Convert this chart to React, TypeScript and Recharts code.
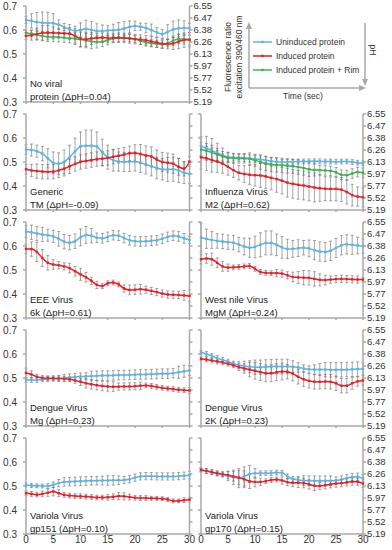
import React from 'react';
import { LineChart, Line, XAxis, YAxis, ErrorBar } from 'recharts';

const BLUE = '#5ab4e6';
const RED = '#ee1c25';
const GREEN = '#3cb44a';
const AXIS = '#a8a8a8';
const ERR = '#6a6a6a';
const FONT = '"Liberation Sans", Arial, sans-serif';

const seconds = [0, 1, 2, 3, 4, 5, 6, 7, 8, 9, 10, 11, 12, 13, 14, 15, 16, 17, 18, 19, 20, 21, 22, 23, 24, 25, 26, 27, 28, 29, 30];
const timeTicks = [0, 5, 10, 15, 20, 25, 30];
const ratioTicks = [0.3, 0.4, 0.5, 0.6, 0.7];
const phPositions = [0.7, 0.65, 0.6, 0.55, 0.5, 0.45, 0.4, 0.35, 0.3];
const phLabels = ['6.55', '6.47', '6.38', '6.26', '6.13', '5.97', '5.77', '5.52', '5.19'];

// No viral protein
const noViralBlue = [0.642, 0.638, 0.633, 0.63, 0.629, 0.628, 0.622, 0.612, 0.603, 0.596, 0.6, 0.605, 0.6, 0.596, 0.596, 0.598, 0.599, 0.601, 0.606, 0.613, 0.617, 0.614, 0.608, 0.6, 0.59, 0.583, 0.592, 0.602, 0.607, 0.608, 0.608];
const noViralBlueErr = [0.015, 0.03, 0.04, 0.045, 0.045, 0.04, 0.02, 0.015, 0.02, 0.02, 0.03, 0.035, 0.035, 0.03, 0.025, 0.02, 0.025, 0.03, 0.03, 0.025, 0.02, 0.015, 0.02, 0.025, 0.02, 0.02, 0.03, 0.035, 0.035, 0.03, 0.02];
const noViralRed = [0.575, 0.578, 0.583, 0.588, 0.589, 0.588, 0.587, 0.586, 0.585, 0.575, 0.564, 0.561, 0.565, 0.567, 0.568, 0.567, 0.567, 0.568, 0.567, 0.565, 0.562, 0.56, 0.557, 0.552, 0.548, 0.543, 0.541, 0.544, 0.552, 0.558, 0.56];
const noViralRedErr = [0.015, 0.02, 0.025, 0.03, 0.03, 0.025, 0.02, 0.02, 0.025, 0.03, 0.035, 0.03, 0.025, 0.02, 0.02, 0.02, 0.02, 0.02, 0.02, 0.02, 0.02, 0.02, 0.02, 0.02, 0.02, 0.02, 0.02, 0.025, 0.03, 0.03, 0.03];
const noViralGreen = [0.588, 0.585, 0.58, 0.575, 0.572, 0.571, 0.57, 0.568, 0.566, 0.564, 0.561, 0.556, 0.552, 0.55, 0.551, 0.558, 0.565, 0.567, 0.567, 0.566, 0.562, 0.555, 0.548, 0.545, 0.542, 0.54, 0.545, 0.555, 0.563, 0.562, 0.558];
const noViralGreenErr = [0.01, 0.015, 0.02, 0.02, 0.02, 0.02, 0.02, 0.02, 0.02, 0.025, 0.03, 0.03, 0.03, 0.025, 0.02, 0.02, 0.015, 0.015, 0.015, 0.015, 0.015, 0.015, 0.015, 0.015, 0.015, 0.015, 0.015, 0.02, 0.02, 0.02, 0.02];

// Generic TM
const genericBlue = [0.552, 0.55, 0.545, 0.535, 0.515, 0.497, 0.493, 0.5, 0.52, 0.545, 0.565, 0.568, 0.568, 0.565, 0.54, 0.52, 0.507, 0.502, 0.5, 0.501, 0.502, 0.497, 0.49, 0.482, 0.475, 0.47, 0.469, 0.47, 0.465, 0.455, 0.45];
const genericBlueErr = [0.02, 0.025, 0.025, 0.03, 0.04, 0.045, 0.045, 0.05, 0.05, 0.055, 0.06, 0.065, 0.065, 0.06, 0.055, 0.05, 0.045, 0.04, 0.04, 0.04, 0.04, 0.04, 0.04, 0.04, 0.045, 0.045, 0.05, 0.05, 0.05, 0.045, 0.04];
const genericRed = [0.47, 0.465, 0.462, 0.46, 0.459, 0.46, 0.465, 0.472, 0.482, 0.492, 0.5, 0.504, 0.508, 0.512, 0.514, 0.517, 0.522, 0.526, 0.531, 0.536, 0.537, 0.533, 0.527, 0.523, 0.51, 0.5, 0.497, 0.493, 0.48, 0.472, 0.502];
const genericRedErr = [0.02, 0.025, 0.03, 0.03, 0.03, 0.03, 0.03, 0.03, 0.03, 0.03, 0.03, 0.03, 0.03, 0.03, 0.03, 0.03, 0.03, 0.03, 0.03, 0.03, 0.035, 0.04, 0.04, 0.04, 0.04, 0.04, 0.04, 0.04, 0.035, 0.03, 0.02];

// Influenza Virus M2
const m2Blue = [0.565, 0.557, 0.548, 0.538, 0.528, 0.521, 0.519, 0.518, 0.517, 0.515, 0.513, 0.51, 0.507, 0.503, 0.501, 0.5, 0.5, 0.501, 0.502, 0.502, 0.503, 0.503, 0.503, 0.502, 0.502, 0.501, 0.502, 0.502, 0.5, 0.497, 0.495];
const m2BlueErr = [0.04, 0.05, 0.05, 0.04, 0.03, 0.02, 0.015, 0.015, 0.015, 0.015, 0.015, 0.015, 0.015, 0.015, 0.015, 0.01, 0.01, 0.01, 0.01, 0.01, 0.01, 0.01, 0.01, 0.01, 0.01, 0.01, 0.01, 0.01, 0.01, 0.01, 0.01];
const m2Red = [0.52, 0.515, 0.508, 0.502, 0.493, 0.48, 0.466, 0.455, 0.45, 0.447, 0.445, 0.444, 0.44, 0.434, 0.429, 0.422, 0.414, 0.409, 0.405, 0.402, 0.398, 0.394, 0.391, 0.389, 0.388, 0.388, 0.385, 0.375, 0.362, 0.356, 0.353];
const m2RedErr = [0.05, 0.05, 0.05, 0.045, 0.04, 0.035, 0.03, 0.03, 0.035, 0.04, 0.045, 0.05, 0.05, 0.05, 0.055, 0.055, 0.06, 0.06, 0.06, 0.06, 0.06, 0.06, 0.055, 0.05, 0.05, 0.05, 0.05, 0.05, 0.045, 0.04, 0.04];
const m2Green = [0.552, 0.547, 0.54, 0.532, 0.524, 0.518, 0.516, 0.515, 0.515, 0.513, 0.507, 0.5, 0.494, 0.49, 0.488, 0.486, 0.484, 0.482, 0.479, 0.475, 0.47, 0.467, 0.466, 0.465, 0.463, 0.457, 0.447, 0.445, 0.452, 0.458, 0.455];
const m2GreenErr = [0.03, 0.03, 0.03, 0.025, 0.02, 0.02, 0.02, 0.02, 0.02, 0.025, 0.025, 0.03, 0.03, 0.03, 0.03, 0.03, 0.03, 0.03, 0.03, 0.03, 0.03, 0.025, 0.02, 0.02, 0.02, 0.02, 0.02, 0.02, 0.02, 0.02, 0.02];

// EEE Virus 6k
const eeeBlue = [0.66, 0.657, 0.652, 0.648, 0.645, 0.64, 0.63, 0.618, 0.614, 0.62, 0.636, 0.646, 0.643, 0.634, 0.632, 0.638, 0.645, 0.643, 0.633, 0.624, 0.62, 0.619, 0.62, 0.622, 0.624, 0.63, 0.638, 0.643, 0.64, 0.632, 0.625];
const eeeBlueErr = [0.025, 0.03, 0.03, 0.03, 0.025, 0.025, 0.03, 0.03, 0.03, 0.03, 0.035, 0.035, 0.03, 0.02, 0.02, 0.02, 0.02, 0.02, 0.02, 0.02, 0.02, 0.02, 0.02, 0.02, 0.02, 0.02, 0.02, 0.02, 0.02, 0.02, 0.015];
const eeeRed = [0.588, 0.587, 0.575, 0.55, 0.53, 0.523, 0.52, 0.515, 0.508, 0.495, 0.482, 0.47, 0.455, 0.438, 0.433, 0.445, 0.448, 0.44, 0.423, 0.417, 0.418, 0.42, 0.418, 0.413, 0.408, 0.402, 0.398, 0.397, 0.396, 0.394, 0.392];
const eeeRedErr = [0.02, 0.03, 0.04, 0.035, 0.03, 0.02, 0.015, 0.015, 0.02, 0.02, 0.025, 0.02, 0.015, 0.015, 0.01, 0.01, 0.01, 0.01, 0.015, 0.02, 0.02, 0.02, 0.015, 0.015, 0.015, 0.015, 0.015, 0.015, 0.015, 0.02, 0.025];

// West nile Virus MgM
const westNileBlue = [0.635, 0.63, 0.625, 0.621, 0.619, 0.616, 0.614, 0.606, 0.598, 0.593, 0.596, 0.605, 0.613, 0.613, 0.605, 0.594, 0.588, 0.588, 0.591, 0.593, 0.59, 0.583, 0.577, 0.575, 0.58, 0.592, 0.603, 0.607, 0.605, 0.602, 0.6];
const westNileBlueErr = [0.06, 0.04, 0.035, 0.03, 0.03, 0.03, 0.03, 0.03, 0.035, 0.04, 0.045, 0.05, 0.05, 0.05, 0.045, 0.045, 0.04, 0.035, 0.035, 0.03, 0.035, 0.04, 0.04, 0.04, 0.04, 0.04, 0.04, 0.04, 0.04, 0.035, 0.03];
const westNileRed = [0.545, 0.548, 0.545, 0.53, 0.515, 0.51, 0.511, 0.513, 0.515, 0.517, 0.505, 0.492, 0.488, 0.487, 0.487, 0.485, 0.478, 0.471, 0.469, 0.468, 0.467, 0.463, 0.459, 0.458, 0.46, 0.462, 0.463, 0.462, 0.461, 0.46, 0.46];
const westNileRedErr = [0.02, 0.02, 0.025, 0.02, 0.02, 0.015, 0.01, 0.01, 0.01, 0.01, 0.01, 0.01, 0.01, 0.01, 0.015, 0.015, 0.015, 0.02, 0.025, 0.03, 0.03, 0.03, 0.025, 0.02, 0.015, 0.015, 0.015, 0.015, 0.015, 0.015, 0.01];

// Dengue Virus Mg
const mgBlue = [0.493, 0.492, 0.492, 0.494, 0.496, 0.497, 0.498, 0.5, 0.502, 0.504, 0.506, 0.507, 0.508, 0.509, 0.51, 0.51, 0.511, 0.512, 0.512, 0.513, 0.514, 0.515, 0.515, 0.516, 0.517, 0.518, 0.518, 0.52, 0.524, 0.528, 0.531];
const mgBlueErr = [0.01, 0.01, 0.01, 0.01, 0.01, 0.01, 0.012, 0.015, 0.015, 0.015, 0.015, 0.015, 0.02, 0.02, 0.02, 0.02, 0.02, 0.02, 0.02, 0.02, 0.02, 0.02, 0.02, 0.02, 0.02, 0.02, 0.02, 0.02, 0.025, 0.025, 0.02];
const mgRed = [0.521, 0.515, 0.505, 0.5, 0.499, 0.499, 0.498, 0.497, 0.495, 0.49, 0.484, 0.478, 0.474, 0.47, 0.467, 0.465, 0.464, 0.464, 0.465, 0.465, 0.466, 0.468, 0.469, 0.467, 0.463, 0.459, 0.456, 0.454, 0.451, 0.449, 0.448];
const mgRedErr = [0.02, 0.015, 0.01, 0.01, 0.01, 0.01, 0.01, 0.01, 0.01, 0.012, 0.015, 0.02, 0.02, 0.02, 0.02, 0.02, 0.02, 0.015, 0.015, 0.015, 0.015, 0.015, 0.01, 0.01, 0.01, 0.01, 0.01, 0.01, 0.01, 0.01, 0.012];

// Dengue Virus 2K
const k2Blue = [0.607, 0.6, 0.592, 0.583, 0.575, 0.568, 0.56, 0.554, 0.55, 0.547, 0.545, 0.545, 0.546, 0.547, 0.548, 0.548, 0.548, 0.547, 0.544, 0.54, 0.536, 0.535, 0.535, 0.535, 0.534, 0.534, 0.534, 0.535, 0.536, 0.537, 0.538];
const k2BlueErr = [0.008, 0.01, 0.01, 0.01, 0.01, 0.01, 0.01, 0.015, 0.02, 0.025, 0.03, 0.03, 0.03, 0.03, 0.03, 0.03, 0.03, 0.025, 0.02, 0.015, 0.015, 0.02, 0.025, 0.03, 0.03, 0.03, 0.03, 0.03, 0.03, 0.03, 0.025];
const k2Red = [0.58, 0.577, 0.573, 0.569, 0.565, 0.56, 0.553, 0.546, 0.54, 0.535, 0.53, 0.525, 0.52, 0.52, 0.524, 0.527, 0.526, 0.518, 0.505, 0.495, 0.488, 0.484, 0.484, 0.485, 0.484, 0.478, 0.468, 0.468, 0.478, 0.486, 0.49];
const k2RedErr = [0.008, 0.01, 0.01, 0.01, 0.01, 0.01, 0.01, 0.015, 0.02, 0.03, 0.035, 0.035, 0.035, 0.035, 0.035, 0.035, 0.03, 0.03, 0.03, 0.03, 0.03, 0.03, 0.03, 0.03, 0.03, 0.03, 0.03, 0.03, 0.025, 0.02, 0.02];

// Variola Virus gp151
const gp151Blue = [0.504, 0.502, 0.501, 0.5, 0.5, 0.505, 0.512, 0.517, 0.518, 0.519, 0.52, 0.521, 0.522, 0.522, 0.523, 0.523, 0.524, 0.524, 0.525, 0.528, 0.535, 0.54, 0.541, 0.541, 0.54, 0.54, 0.54, 0.54, 0.541, 0.543, 0.545];
const gp151BlueErr = [0.008, 0.008, 0.008, 0.008, 0.01, 0.012, 0.015, 0.018, 0.018, 0.018, 0.018, 0.018, 0.018, 0.018, 0.018, 0.02, 0.02, 0.018, 0.015, 0.015, 0.015, 0.015, 0.015, 0.015, 0.015, 0.015, 0.015, 0.015, 0.015, 0.015, 0.015];
const gp151Red = [0.47, 0.467, 0.464, 0.467, 0.472, 0.477, 0.47, 0.463, 0.46, 0.458, 0.457, 0.456, 0.454, 0.452, 0.452, 0.453, 0.455, 0.458, 0.457, 0.454, 0.451, 0.45, 0.45, 0.449, 0.448, 0.447, 0.444, 0.438, 0.438, 0.441, 0.443];
const gp151RedErr = [0.01, 0.01, 0.01, 0.012, 0.015, 0.018, 0.015, 0.01, 0.01, 0.01, 0.01, 0.01, 0.01, 0.01, 0.01, 0.012, 0.012, 0.015, 0.015, 0.012, 0.01, 0.01, 0.01, 0.008, 0.008, 0.008, 0.008, 0.008, 0.008, 0.01, 0.01];

// Variola Virus gp170
const gp170Blue = [0.567, 0.562, 0.557, 0.552, 0.548, 0.542, 0.536, 0.533, 0.54, 0.55, 0.553, 0.553, 0.553, 0.554, 0.556, 0.555, 0.54, 0.53, 0.525, 0.523, 0.522, 0.522, 0.522, 0.522, 0.522, 0.523, 0.527, 0.533, 0.538, 0.539, 0.532];
const gp170BlueErr = [0.008, 0.01, 0.01, 0.01, 0.01, 0.02, 0.03, 0.04, 0.04, 0.035, 0.02, 0.01, 0.01, 0.01, 0.01, 0.01, 0.01, 0.01, 0.015, 0.02, 0.02, 0.02, 0.02, 0.02, 0.02, 0.015, 0.015, 0.015, 0.015, 0.015, 0.015];
const gp170Red = [0.567, 0.563, 0.558, 0.553, 0.549, 0.545, 0.54, 0.535, 0.528, 0.52, 0.517, 0.517, 0.52, 0.525, 0.527, 0.523, 0.516, 0.513, 0.514, 0.512, 0.507, 0.501, 0.5, 0.503, 0.507, 0.51, 0.512, 0.515, 0.518, 0.518, 0.51];
const gp170RedErr = [0.008, 0.01, 0.01, 0.01, 0.01, 0.015, 0.02, 0.03, 0.035, 0.03, 0.02, 0.015, 0.01, 0.01, 0.01, 0.015, 0.015, 0.015, 0.02, 0.02, 0.02, 0.02, 0.015, 0.015, 0.015, 0.015, 0.015, 0.015, 0.015, 0.015, 0.015];

type PanelDef = {
  row: number;
  col: number;
  title: [string, string];
  blue: number[];
  blueErr: number[];
  red: number[];
  redErr: number[];
  green?: number[];
  greenErr?: number[];
};

const panels: PanelDef[] = [
  { row: 0, col: 0, title: ['No viral', 'protein (ΔpH=0.04)'], blue: noViralBlue, blueErr: noViralBlueErr, red: noViralRed, redErr: noViralRedErr, green: noViralGreen, greenErr: noViralGreenErr },
  { row: 1, col: 0, title: ['Generic', 'TM (ΔpH=-0.09)'], blue: genericBlue, blueErr: genericBlueErr, red: genericRed, redErr: genericRedErr },
  { row: 1, col: 1, title: ['Influenza Virus', 'M2 (ΔpH=0.62)'], blue: m2Blue, blueErr: m2BlueErr, red: m2Red, redErr: m2RedErr, green: m2Green, greenErr: m2GreenErr },
  { row: 2, col: 0, title: ['EEE Virus', '6k (ΔpH=0.61)'], blue: eeeBlue, blueErr: eeeBlueErr, red: eeeRed, redErr: eeeRedErr },
  { row: 2, col: 1, title: ['West nile Virus', 'MgM (ΔpH=0.24)'], blue: westNileBlue, blueErr: westNileBlueErr, red: westNileRed, redErr: westNileRedErr },
  { row: 3, col: 0, title: ['Dengue Virus', 'Mg (ΔpH=0.23)'], blue: mgBlue, blueErr: mgBlueErr, red: mgRed, redErr: mgRedErr },
  { row: 3, col: 1, title: ['Dengue Virus', '2K (ΔpH=0.23)'], blue: k2Blue, blueErr: k2BlueErr, red: k2Red, redErr: k2RedErr },
  { row: 4, col: 0, title: ['Variola Virus', 'gp151 (ΔpH=0.10)'], blue: gp151Blue, blueErr: gp151BlueErr, red: gp151Red, redErr: gp151RedErr },
  { row: 4, col: 1, title: ['Variola Virus', 'gp170 (ΔpH=0.15)'], blue: gp170Blue, blueErr: gp170BlueErr, red: gp170Red, redErr: gp170RedErr },
];

const ROW_STEP = 108;
const PLOT_TOP = 6;
const PLOT_H = 96;
const TOP_MARGIN = 6;
const X_AXIS_H = 14;

const squareDot = (color: string) => (p: any) => (
  <rect key={`dot-${p.index}`} x={p.cx - 1.2} y={p.cy - 1.2} width={2.4} height={2.4} fill={color} />
);

const phLabel = (v: number) => {
  const i = phPositions.findIndex((p) => Math.abs(p - v) < 1e-6);
  return i >= 0 ? phLabels[i] : '';
};

function Panel({ p }: { p: PanelDef }) {
  const data = seconds.map((t, i) => ({
    t,
    blue: p.blue[i],
    blueErr: p.blueErr[i],
    red: p.red[i],
    redErr: p.redErr[i],
    green: p.green ? p.green[i] : undefined,
    greenErr: p.greenErr ? p.greenErr[i] : undefined,
  }));
  const isLeft = p.col === 0;
  const left = isLeft ? 0 : 175;
  const width = isLeft ? 222 : 217;
  const leftW = 26;
  const rightW = isLeft ? 32.5 : 29;
  const plotTop = PLOT_TOP + p.row * ROW_STEP;
  const plotBottom = plotTop + PLOT_H;
  const showRatio = isLeft;
  const showPh = !isLeft || p.row === 0;
  const lastRow = p.row === 4;
  const tickStyle = { fontSize: 10, fill: '#333', fontFamily: FONT };
  const phTickStyle = { fontSize: 9.5, fill: '#333', fontFamily: FONT };

  return (
    <>
      <div style={{ position: 'absolute', left, top: plotTop - TOP_MARGIN }}>
        <LineChart width={width} height={TOP_MARGIN + PLOT_H + X_AXIS_H} data={data} margin={{ top: TOP_MARGIN, right: 0, bottom: 0, left: 0 }}>
          <XAxis
            dataKey="t"
            type="number"
            domain={[0, 30]}
            ticks={timeTicks}
            interval={0}
            height={X_AXIS_H}
            stroke={AXIS}
            strokeWidth={1.5}
            tickSize={2}
            tickMargin={0}
            tick={tickStyle}
            tickFormatter={(v) => (lastRow ? String(v) : '')}
          />
          <YAxis
            yAxisId="ratio"
            orientation="left"
            type="number"
            domain={[0.3, 0.7]}
            ticks={ratioTicks}
            interval={0}
            width={leftW}
            stroke={AXIS}
            strokeWidth={1.5}
            tickSize={3}
            tickMargin={6}
            tick={tickStyle}
            tickFormatter={(v) => (showRatio ? v.toFixed(1) : '')}
            allowDataOverflow
          />
          <YAxis
            yAxisId="ph"
            orientation="right"
            type="number"
            domain={[0.3, 0.7]}
            ticks={phPositions}
            interval={0}
            width={rightW}
            stroke={AXIS}
            strokeWidth={1.5}
            tickSize={3}
            tickMargin={1}
            tick={phTickStyle}
            tickFormatter={(v) => (showPh ? phLabel(v) : '')}
            allowDataOverflow
          />
          {/* invisible series so the pH axis is laid out on the same scale */}
          <Line yAxisId="ph" dataKey="blue" stroke="none" dot={false} activeDot={false} legendType="none" isAnimationActive={false} />
          <Line yAxisId="ratio" dataKey="blue" type="monotone" stroke={BLUE} strokeWidth={1.5} dot={squareDot(BLUE)} isAnimationActive={false}>
            <ErrorBar dataKey="blueErr" direction="y" width={1.5} stroke={ERR} strokeWidth={0.6} />
          </Line>
          {p.green && (
            <Line yAxisId="ratio" dataKey="green" type="monotone" stroke={GREEN} strokeWidth={1.5} dot={squareDot(GREEN)} isAnimationActive={false}>
              <ErrorBar dataKey="greenErr" direction="y" width={1.5} stroke={ERR} strokeWidth={0.6} />
            </Line>
          )}
          <Line yAxisId="ratio" dataKey="red" type="monotone" stroke={RED} strokeWidth={1.5} dot={squareDot(RED)} isAnimationActive={false}>
            <ErrorBar dataKey="redErr" direction="y" width={1.5} stroke={ERR} strokeWidth={0.6} />
          </Line>
        </LineChart>
      </div>
      <div
        style={{
          position: 'absolute',
          left: isLeft ? 30 : 205,
          top: plotBottom - 25,
          fontFamily: FONT,
          fontSize: 9.5,
          lineHeight: '13px',
          color: '#222',
          whiteSpace: 'nowrap',
        }}
      >
        <div>{p.title[0]}</div>
        <div>{p.title[1]}</div>
      </div>
    </>
  );
}

const legendItems = [
  { label: 'Uninduced protein', color: BLUE },
  { label: 'Induced protein', color: RED },
  { label: 'Induced protein + Rim', color: GREEN },
];

function Key() {
  return (
    <svg width={392} height={110} style={{ position: 'absolute', left: 0, top: 0 }} fontFamily={FONT}>
      <line x1={249} y1={88} x2={249} y2={27} stroke={AXIS} strokeWidth={1.5} />
      <polygon points="249,22 246,29 252,29" fill={AXIS} />
      <line x1={249} y1={88} x2={360} y2={88} stroke={AXIS} strokeWidth={1.5} />
      <polygon points="366,88 359,85 359,91" fill={AXIS} />
      <line x1={365} y1={23} x2={365} y2={80} stroke={AXIS} strokeWidth={1.5} />
      <polygon points="365,86 362,79 368,79" fill={AXIS} />
      <text x={228} y={57} fontSize={8.5} fill="#333" textAnchor="middle" dominantBaseline="central" transform="rotate(-90 228 57)">
        Fluorescence ratio
      </text>
      <text x={239} y={57} fontSize={8.5} fill="#333" textAnchor="middle" dominantBaseline="central" transform="rotate(-90 239 57)">
        excitation 390/460 nm
      </text>
      <text x={303} y={96} fontSize={8.5} fill="#333" textAnchor="middle" dominantBaseline="central">
        Time (sec)
      </text>
      <text x={373} y={50} fontSize={8.5} fill="#333" textAnchor="middle" dominantBaseline="central" transform="rotate(90 373 50)">
        pH
      </text>
      {legendItems.map((it, i) => {
        const y = 42 + i * 14;
        return (
          <g key={it.label}>
            <line x1={253} y1={y} x2={272} y2={y} stroke={it.color} strokeWidth={1.5} />
            <rect x={261.3} y={y - 1.2} width={2.4} height={2.4} fill={it.color} />
            <text x={276} y={y} fontSize={8.5} fill="#333" dominantBaseline="central">
              {it.label}
            </text>
          </g>
        );
      })}
    </svg>
  );
}

export default function App() {
  return (
    <div style={{ position: 'absolute', left: 0, top: 0, width: 392, height: 550, background: '#fff', overflow: 'hidden' }}>
      <Key />
      {panels.map((p) => (
        <Panel key={`${p.row}-${p.col}`} p={p} />
      ))}
    </div>
  );
}
